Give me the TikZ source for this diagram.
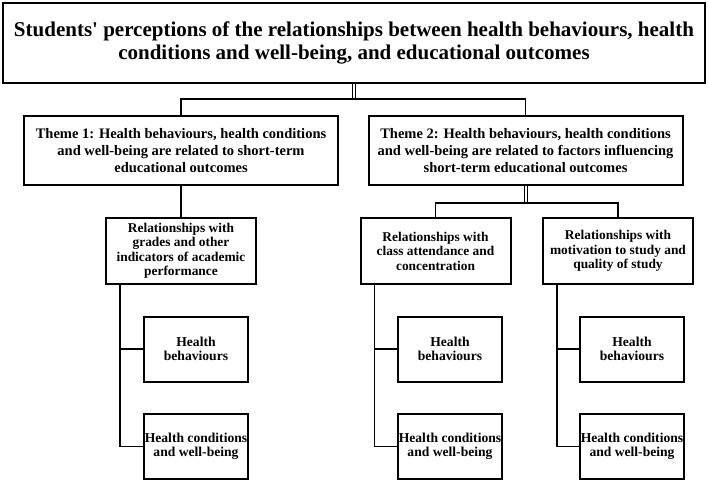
\documentclass[tikz,border=0pt]{standalone}
\usepackage{fontspec}
\setmainfont{Liberation Serif}
\tikzset{
  box/.style={draw, line width=2pt, align=center, inner sep=1pt},
  titlebox/.style={box, minimum width=702pt, minimum height=80pt, font=\bfseries\fontsize{21}{22.5}\selectfont},
  themebox/.style={box, minimum width=314pt, minimum height=69pt, font=\bfseries\fontsize{14.5}{17}\selectfont},
  subbox/.style={box, minimum width=150pt, minimum height=66pt, font=\bfseries\fontsize{13.4}{14.5}\selectfont},
  leafbox/.style={box, minimum width=104pt, minimum height=65pt, font=\bfseries\fontsize{13.6}{14.5}\selectfont},
  link/.style={line width=1.6pt},
  dlink/.style={line width=1pt, double, double distance=2pt},
}
\begin{document}
\begin{tikzpicture}[x=1pt,y=-1pt]
\useasboundingbox (0,0) rectangle (709,482);

% top
\node[titlebox] (title) at (354,43) {Students\textquotesingle\ perceptions of the relationships between health behaviours, health\\conditions and well-being, and educational outcomes};

% themes
\node[themebox] (th1) at (181,150.5) {Theme 1: Health behaviours, health conditions\\and well-being are related to short-term\\educational outcomes};
\node[themebox] (th2) at (525.5,150.5) {Theme 2: Health behaviours, health conditions\\and well-being are related to factors influencing\\short-term educational outcomes};

% sub themes
\node[subbox] (c1) at (181,251) {Relationships with\\grades and other\\indicators of academic\\performance};
\node[subbox] (c2) at (435.5,251) {Relationships with\\class attendance and\\concentration};
\node[subbox] (c3) at (618,251) {Relationships with\\motivation to study and\\quality of study};

\coordinate (jt) at (354,99);
\coordinate (jm) at (525.5,203);
\draw[dlink] (title.south) -- (jt);
\draw[link] (th1.north) |- (jt) -| (th2.north);
\draw[link] (th1) -- (c1);
\draw[dlink] (th2.south) -- (jm);
\draw[link] (c2.north) |- (jm) -| (c3.north);

% leaves
\foreach \c/\x in {c1/196, c2/450, c3/632}
{
\node[leafbox] (\c-a) at (\x,349) {Health\\behaviours};
\node[leafbox] (\c-b) at (\x,446.5) {Health conditions\\and well-being};
\draw[link] ([xshift=15pt]\c.south west) |- (\c-a.west);
\draw[link] ([xshift=15pt]\c.south west) |- (\c-b.west);
}
\end{tikzpicture}
\end{document}
